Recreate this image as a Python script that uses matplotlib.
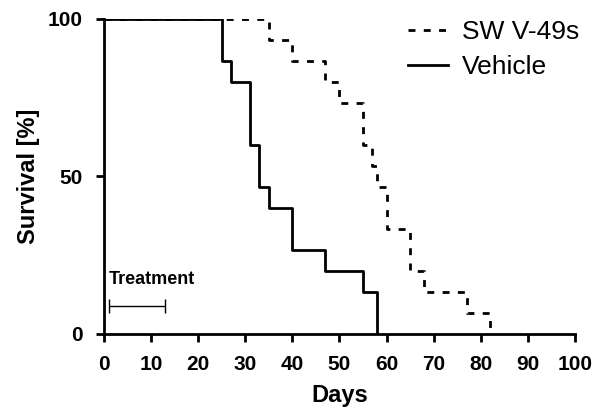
import matplotlib
matplotlib.use("Agg")
import matplotlib.pyplot as plt
import numpy as np

# Kaplan-Meier step data (days, % survival)
sw_days = [0, 35, 40, 47, 50, 55, 57, 58, 60, 65, 68, 77, 82]
sw_surv = [100, 93.3, 86.7, 80, 73.3, 60, 53.3, 46.7, 33.3, 20, 13.3, 6.7, 0]

veh_days = [0, 25, 27, 31, 33, 35, 40, 47, 55, 58]
veh_surv = [100, 86.7, 80, 60, 46.7, 40, 26.7, 20, 13.3, 0]

treat_start, treat_end = 1, 13
treat_level = 9

x_ticks = list(range(0, 101, 10))
y_ticks = [0, 50, 100]

plt.rcParams['font.family'] = ['Liberation Sans', 'DejaVu Sans']

fig = plt.figure(figsize=(6.04, 4.18), dpi=100)
ax = fig.add_axes([0.172, 0.201, 0.780, 0.754])

ax.step(sw_days, sw_surv, where='post', color='black', lw=2,
        linestyle=(0, (2.5, 3)), label='SW V-49s')
ax.step(veh_days, veh_surv, where='post', color='black', lw=2,
        label='Vehicle')

# treatment bar
ax.errorbar([(treat_start + treat_end) / 2], [treat_level],
            xerr=[(treat_end - treat_start) / 2], color='black',
            lw=1, capsize=5, capthick=1, fmt='none')
ax.text(treat_start, treat_level + 5.5, 'Treatment', fontsize=13,
        fontweight='bold', ha='left', va='bottom')

ax.set_xlim(0, 100)
ax.set_ylim(0, 100)
ax.set_xticks(x_ticks)
ax.set_yticks(y_ticks)
ax.spines['top'].set_visible(False)
ax.spines['right'].set_visible(False)
ax.spines['left'].set_linewidth(2)
ax.spines['bottom'].set_linewidth(2)
ax.tick_params(width=2, length=6, labelsize=15)
ax.tick_params(axis='x', pad=9)
ax.tick_params(axis='y', pad=9)
for lbl in ax.get_xticklabels() + ax.get_yticklabels():
    lbl.set_fontweight('bold')

ax.set_xlabel('Days', fontsize=17, fontweight='bold', labelpad=7)
ax.set_ylabel('Survival [%]', fontsize=17, fontweight='bold', labelpad=6)

leg = ax.legend(loc='upper right', bbox_to_anchor=(1.06, 1.07), frameon=False,
                fontsize=19, handlelength=1.5, labelspacing=0.4,
                handletextpad=0.55)

fig.savefig('out.png', dpi=100)
